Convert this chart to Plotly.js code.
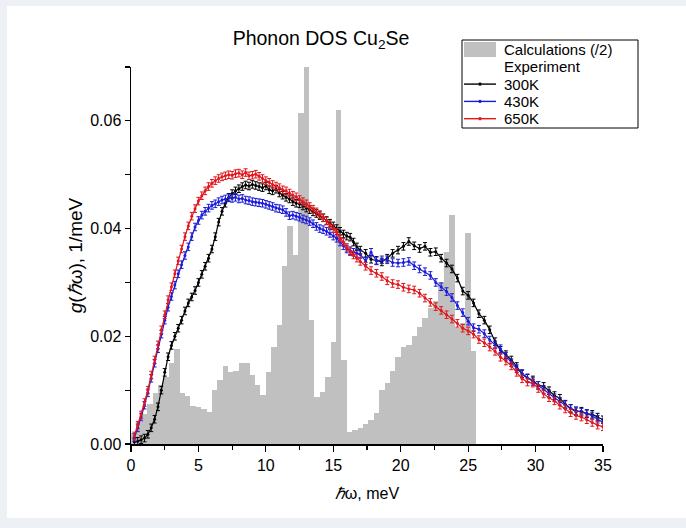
<!DOCTYPE html>
<html>
<head>
<meta charset="utf-8">
<script src="https://cdn.plot.ly/plotly-3.0.1.min.js"></script>
<style>
html,body{margin:0;padding:0;background:#edf0f5;width:686px;height:528px;overflow:hidden;}
#chart{position:absolute;left:7px;top:6px;width:679px;height:512px;background:#fff;}
</style>
</head>
<body>
<div id="chart"></div>
<script>
// Calculated DOS (/2), histogram bins of 0.4 meV (centres)
const calcE = [0.2,0.6,1.0,1.4,1.8,2.2,2.6,3.0,3.4,3.8,4.2,4.6,5.0,5.4,5.8,6.2,6.6,7.0,7.4,7.8,8.2,8.6,9.0,9.4,9.8,10.2,10.6,11.0,11.4,11.8,12.2,12.6,13.0,13.4,13.8,14.2,14.6,15.0,15.4,15.8,16.2,16.6,17.0,17.4,17.8,18.2,18.6,19.0,19.4,19.8,20.2,20.6,21.0,21.4,21.8,22.2,22.6,23.0,23.4,23.8,24.2,24.6,25.0,25.4];
const calcG = [0.0020,0.0040,0.0055,0.0075,0.0094,0.0110,0.0125,0.0150,0.0177,0.0095,0.0090,0.0071,0.0068,0.0065,0.0060,0.0100,0.0119,0.0145,0.0134,0.0136,0.0151,0.0151,0.0128,0.0110,0.0091,0.0134,0.0181,0.0221,0.0330,0.0404,0.0351,0.0615,0.0700,0.0230,0.0088,0.0097,0.0125,0.0190,0.0620,0.0156,0.0023,0.0026,0.0029,0.0037,0.0045,0.0057,0.0100,0.0113,0.0135,0.0162,0.0181,0.0184,0.0201,0.0218,0.0234,0.0252,0.0265,0.0300,0.0357,0.0426,0.0215,0.0225,0.0392,0.0172];

// Experimental energies (meV)
const expE = [0.25,0.5,0.75,1.0,1.25,1.5,1.75,2.0,2.25,2.5,2.75,3.0,3.25,3.5,3.75,4.0,4.25,4.5,4.75,5.0,5.25,5.5,5.75,6.0,6.25,6.5,6.75,7.0,7.25,7.5,7.75,8.0,8.25,8.5,8.75,9.0,9.25,9.5,9.75,10.0,10.25,10.5,10.75,11.0,11.25,11.5,11.75,12.0,12.25,12.5,12.75,13.0,13.25,13.5,13.75,14.0,14.25,14.5,14.75,15.0,15.25,15.5,15.75,16.0,16.25,16.5,16.75,17.0,
17.4,17.8,18.2,18.6,19.0,19.4,19.8,20.2,20.6,21.0,21.4,21.8,22.2,22.6,23.0,23.4,23.8,24.2,24.6,25.0,25.4,25.8,26.2,26.6,27.0,27.4,27.8,28.2,28.6,29.0,29.4,29.8,30.2,30.6,31.0,31.4,31.8,32.2,32.6,33.0,33.4,33.8,34.2,34.6,35.0];

const g300 = [0.0004,0.0005,0.0008,0.0011,0.0018,0.0030,0.0046,0.0069,0.0100,0.0133,0.0162,0.0183,0.0200,0.0215,0.0230,0.0247,0.0262,0.0273,0.0285,0.0300,0.0315,0.0330,0.0345,0.0362,0.0385,0.0412,0.0432,0.0447,0.0458,0.0465,0.0470,0.0474,0.0478,0.0481,0.0479,0.0482,0.0480,0.0478,0.0476,0.0479,0.0472,0.0470,0.0473,0.0466,0.0462,0.0458,0.0455,0.0450,0.0447,0.0446,0.0442,0.0438,0.0435,0.0431,0.0428,0.0424,0.0420,0.0415,0.0410,0.0405,0.0400,0.0395,0.0390,0.0386,0.0384,0.0375,0.0366,0.0360,
0.0354,0.0343,0.0341,0.0338,0.0345,0.0354,0.0360,0.0367,0.0376,0.0368,0.0363,0.0367,0.0356,0.0357,0.0345,0.0336,0.0325,0.0308,0.0284,0.0276,0.0262,0.0242,0.0230,0.0212,0.0190,0.0174,0.0166,0.0156,0.0144,0.0130,0.0122,0.0119,0.0109,0.0107,0.0099,0.0090,0.0085,0.0074,0.0066,0.0060,0.0061,0.0056,0.0055,0.0050,0.0045];

const g430 = [0.0012,0.0030,0.0050,0.0072,0.0095,0.0122,0.0150,0.0177,0.0204,0.0230,0.0254,0.0274,0.0295,0.0316,0.0333,0.0350,0.0366,0.0385,0.0403,0.0415,0.0425,0.0432,0.0438,0.0443,0.0446,0.0450,0.0453,0.0455,0.0457,0.0456,0.0458,0.0455,0.0456,0.0453,0.0452,0.0450,0.0449,0.0448,0.0447,0.0445,0.0443,0.0441,0.0438,0.0437,0.0435,0.0430,0.0424,0.0425,0.0423,0.0421,0.0418,0.0416,0.0413,0.0409,0.0404,0.0400,0.0398,0.0395,0.0391,0.0386,0.0382,0.0375,0.0368,0.0362,0.0359,0.0356,0.0354,0.0352,
0.0340,0.0356,0.0340,0.0342,0.0342,0.0337,0.0336,0.0337,0.0339,0.0331,0.0325,0.0320,0.0313,0.0300,0.0292,0.0283,0.0272,0.0257,0.0244,0.0228,0.0216,0.0213,0.0205,0.0193,0.0184,0.0177,0.0163,0.0151,0.0140,0.0131,0.0123,0.0116,0.0109,0.0101,0.0093,0.0086,0.0079,0.0073,0.0066,0.0062,0.0059,0.0057,0.0052,0.0046,0.0040];

const g650 = [0.0015,0.0035,0.0054,0.0077,0.0100,0.0128,0.0156,0.0184,0.0212,0.0240,0.0268,0.0292,0.0316,0.0340,0.0362,0.0385,0.0405,0.0423,0.0437,0.0451,0.0461,0.0470,0.0478,0.0484,0.0489,0.0493,0.0496,0.0498,0.0500,0.0499,0.0502,0.0503,0.0500,0.0504,0.0498,0.0499,0.0501,0.0497,0.0493,0.0489,0.0486,0.0482,0.0479,0.0476,0.0472,0.0470,0.0466,0.0462,0.0459,0.0454,0.0450,0.0446,0.0441,0.0436,0.0431,0.0426,0.0420,0.0414,0.0407,0.0400,0.0393,0.0382,0.0375,0.0365,0.0357,0.0351,0.0345,0.0339,
0.0330,0.0322,0.0317,0.0311,0.0303,0.0298,0.0296,0.0291,0.0288,0.0286,0.0280,0.0271,0.0263,0.0255,0.0248,0.0240,0.0232,0.0224,0.0215,0.0210,0.0204,0.0194,0.0188,0.0180,0.0172,0.0161,0.0154,0.0145,0.0133,0.0121,0.0115,0.0113,0.0103,0.0093,0.0086,0.0080,0.0072,0.0065,0.0058,0.0053,0.0050,0.0045,0.0040,0.0035,0.0032];

const calcName = 'Calculations (/2)';
const expHeader = 'Experiment';
const seriesNames = ['300K','430K','650K'];
const seriesColors = ['#000000','#1c1cd8','#e0161c'];
const seriesData = [g300, g430, g650];

const FONT = 'Liberation Sans, Arial, sans-serif';
const LEGEND_SIZE = 15;

const traces = [];
traces.push({
  type:'bar', x: calcE, y: calcG, width: 0.4,
  marker:{color:'#c0c0c0', line:{width:0}},
  name: calcName, showlegend:false
});
[0,1,2].forEach(i => {
  traces.push({
    type:'scatter', mode:'lines+markers', x: expE, y: seriesData[i],
    name: seriesNames[i], showlegend:false,
    line:{color: seriesColors[i], width: 1.2},
    marker:{color: seriesColors[i], size: 3},
    error_y:{type:'constant', value:0.0007, color: seriesColors[i], thickness:1, width:2}
  });
});

// plot area in page pixels (for legend box placement)
const PL = 131, PR = 603, PT = 67, PB = 444;
const px = v => (v - PL) / (PR - PL);
const py = v => (PB - v) / (PB - PT);

const shapes = [];
const annotations = [];
// legend frame
shapes.push({type:'rect', xref:'paper', yref:'paper', x0:px(462), x1:px(638), y0:py(40), y1:py(128),
  line:{color:'#000', width:1}, fillcolor:'#ffffff', layer:'above'});
// calculations patch
shapes.push({type:'rect', xref:'paper', yref:'paper', x0:px(464), x1:px(496), y0:py(42), y1:py(57),
  line:{width:0}, fillcolor:'#c0c0c0', layer:'above'});
const rowY = [49.5, 66.8, 84.1, 101.4, 118.7];
const legendFont = {family:FONT, size:LEGEND_SIZE, color:'#000'};
annotations.push({xref:'paper', yref:'paper', x:px(503), y:py(rowY[0]), xanchor:'left', yanchor:'middle',
  text: calcName, showarrow:false, font:legendFont, borderpad:0});
annotations.push({xref:'paper', yref:'paper', x:px(503), y:py(rowY[1]), xanchor:'left', yanchor:'middle',
  text: expHeader, showarrow:false, font:legendFont, borderpad:0});
seriesNames.forEach((n, i) => {
  const yy = rowY[2 + i];
  shapes.push({type:'line', xref:'paper', yref:'paper', x0:px(464), x1:px(496), y0:py(yy), y1:py(yy),
    line:{color: seriesColors[i], width:1.4}, layer:'above'});
  shapes.push({type:'line', xref:'paper', yref:'paper', x0:px(480), x1:px(480), y0:py(yy-1.5), y1:py(yy+1.5),
    line:{color: seriesColors[i], width:2.5}, layer:'above'});
  annotations.push({xref:'paper', yref:'paper', x:px(503), y:py(yy), xanchor:'left', yanchor:'middle',
    text: n, showarrow:false, font:legendFont, borderpad:0});
});

const layout = {
  width: 679, height: 512,
  paper_bgcolor:'#ffffff', plot_bgcolor:'#ffffff',
  margin:{l:124, r:83, t:61, b:74, pad:0},
  font:{family:FONT, color:'#000', size:16},
  title:{text:'Phonon DOS Cu<sub>2</sub>Se', font:{family:FONT, size:19.5, color:'#000'},
         xref:'container', yref:'container', x:(321-7)/679, y:1-(38-6)/512, xanchor:'center', yanchor:'middle'},
  bargap:0,
  showlegend:false,
  shapes: shapes,
  annotations: annotations,
  xaxis:{range:[0,35], showline:true, linecolor:'#000', linewidth:1.5, mirror:false,
         showgrid:false, zeroline:false, ticks:'outside', ticklen:6, tickwidth:1.2, tickcolor:'#000',
         dtick:5, tick0:0, tickfont:{family:FONT, size:16},
         minor:{dtick:2.5, ticks:'outside', ticklen:4, tickwidth:1.2, tickcolor:'#000', showgrid:false},
         title:{text:'<i>ℏ</i>ω, meV', font:{family:FONT, size:16}, standoff:15}},
  yaxis:{range:[0,0.07], showline:true, linecolor:'#000', linewidth:1.5, mirror:false,
         showgrid:false, zeroline:false, ticks:'outside', ticklen:5, tickwidth:1.2, tickcolor:'#000',
         dtick:0.02, tick0:0, tickformat:'.2f', tickfont:{family:FONT, size:16},
         minor:{dtick:0.01, ticks:'outside', ticklen:5, tickwidth:1.2, tickcolor:'#000', showgrid:false},
         title:{text:'<i>g</i>(<i>ℏ</i>ω), 1/meV', font:{family:FONT, size:19}, standoff:2}}
};

Plotly.newPlot('chart', traces, layout, {displayModeBar:false, staticPlot:true});
</script>
</body>
</html>
